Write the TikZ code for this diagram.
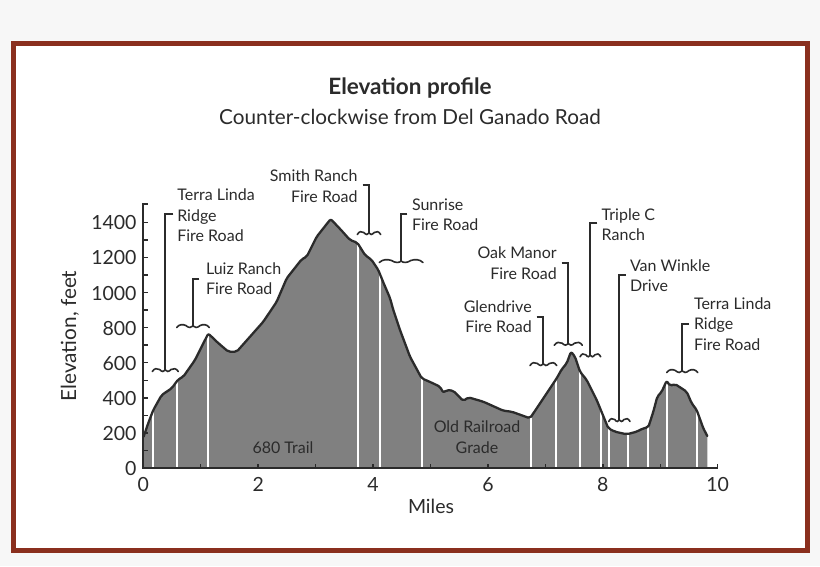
\documentclass[tikz,border=0pt]{standalone}
\usepackage{fontspec}
\setmainfont{Lato}
\definecolor{frame}{HTML}{8A2F1E}
\definecolor{ink}{HTML}{2B2B2B}
\definecolor{area}{HTML}{808080}
\definecolor{outside}{HTML}{F7F7F7}
\tikzset{
  lab/.style={font=\fontsize{16}{20.4}\selectfont,text=ink,inner sep=0pt,outer sep=0pt},
  ll/.style={lab,anchor=base west,align=left},
  lr/.style={lab,anchor=base east,align=right},
  lc/.style={lab,anchor=base,align=center},
  tick/.style={font=\fontsize{19.5}{20}\selectfont,text=ink,inner sep=0pt,outer sep=0pt},
  leader/.style={draw=ink,line width=1.8pt,line join=miter},
  wave/.style={draw=ink,line width=1.6pt,line cap=round},
  axis/.style={draw=ink,line width=2pt},
  gap/.style={draw=white,line width=2pt},
}
\newcommand{\wavebrace}[4]{% name, left, right, y
  \coordinate (#1) at ({(#2+#3)/2},#4);
  \draw[wave] (#2,#4+1.5) .. controls ({#2+(#3-#2)*.08},#4-1.8) and ({#2+(#3-#2)*.18},#4-2) .. ({#2+(#3-#2)*.28},#4-0.5)
     .. controls ({#2+(#3-#2)*.36},#4+2) and ({#2+(#3-#2)*.46},#4+2) .. (#1)
     .. controls ({#2+(#3-#2)*.54},#4+2) and ({#2+(#3-#2)*.64},#4+2) .. ({#2+(#3-#2)*.72},#4-0.5)
     .. controls ({#2+(#3-#2)*.82},#4-2) and ({#2+(#3-#2)*.92},#4-1.8) .. (#3,#4+1.5);
}
\begin{document}
\begin{tikzpicture}[x=1pt,y=-1pt]
\useasboundingbox (0,0) rectangle (820,566);
\fill[outside] (0,0) rectangle (820,566);
\fill[white] (13,43) rectangle (807.5,550);
\draw[frame,line width=5pt] (13.2,43) rectangle (807.5,550);

\node[anchor=base,inner sep=0pt,font=\fontsize{22.5}{24}\selectfont\bfseries,text=ink] (title) at (410,94) {Elevation profile};
\node[anchor=base,inner sep=0pt,font=\fontsize{20.7}{22}\selectfont,text=ink] (subtitle) at (410,124) {Counter-clockwise from Del Ganado Road};

\def\prof{(143.6,436.7) -- (148.3,423) -- (153.3,410) -- (161.7,395) -- (171.7,388.3) -- (178.3,379.3) -- (183.3,376.7) -- (195,360) -- (200.5,349) -- (208.3,333.5) -- (216.7,341.7) -- (228.3,351.7) -- (236.7,351.7) -- (250,336.7) -- (263.3,321.7) -- (276.7,301.7) -- (286.7,278.3) -- (301.7,259.3) -- (306.7,256.7) -- (316.7,236.7) -- (330.7,219) -- (341.7,230.7) -- (350,240) -- (357.3,242.7) -- (365,255) -- (371.7,260) -- (378.3,270) -- (383,281.7) -- (390,298) -- (393.3,310) -- (400,330) -- (410,356.7) -- (421.7,378.3) -- (431.7,382.7) -- (440,386.7) -- (443.3,392.7) -- (446.7,390) -- (453.3,390.7) -- (463.3,401) -- (468.3,397.3) -- (483.3,401.7) -- (503.3,410.7) -- (511.7,411.7) -- (530,418.3) -- (556.7,378.3) -- (561.7,369.3) -- (566.7,363.3) -- (571,351.7) -- (575,356.7) -- (580,371.7) -- (586.7,380) -- (596.7,400) -- (608.3,428.3) -- (615,431.7) -- (626.7,434.3) -- (636.7,431.7) -- (643.3,428.3) -- (648.3,427.3) -- (653.3,411.7) -- (657.3,396.7) -- (661.7,391.7) -- (666.7,380.7) -- (670,386) -- (675,384) -- (686.7,391.7) -- (691.7,403.3) -- (696.7,410) -- (703.3,428.3) -- (707.3,436)}

\fill[area] \prof -- (707.3,468) -- (143.3,468) -- cycle;
\begin{scope}
  \clip \prof -- (707.3,468) -- (143.3,468) -- cycle;
  \foreach \x in {153.3,177.3,208.3,357.7,380,421.7,531,555.7,580.3,601,609.3,628,647.7,667.3,696.7}
    \draw[gap] (\x,200) -- (\x,468);
\end{scope}
\draw[draw=ink,line width=2.3pt,line join=round,line cap=round,rounded corners=2pt] \prof;

% axes
\draw[axis] (147.5,204) -- (143.3,204) -- (143.3,468) -- (717.7,468);
\foreach \i in {1,...,14} \draw[axis,line width=1.5pt] (143.3,{468-17.55*\i}) -- (147.5,{468-17.55*\i});
\foreach \i in {1,...,10} \draw[axis,line width=1.5pt] ({143.3+57.44*\i},468) -- ({143.3+57.44*\i},463.5);
\foreach \v in {0,200,...,1400} \node[tick,anchor=base east] (y\v) at (136.5,{468-\v*0.1755+7.5}) {\v};
\foreach \v in {0,2,...,10} \node[tick,anchor=base] (x\v) at ({143.3+57.44*\v},491) {\v};
\node[tick,anchor=base] (xlabel) at (431,513) {Miles};
\node[tick,font=\fontsize{20.8}{22}\selectfont,anchor=base,rotate=90] (ylabel) at (76,336) {Elevation, feet};

% labels (base anchor is the last line)
\node[ll] (a) at (177.3,241.5) {Terra Linda\\Ridge\\Fire Road};
\node[ll] (b) at (206,294.8) {Luiz Ranch\\Fire Road};
\node[lr] (c) at (357.5,202) {Smith Ranch\\Fire Road};
\node[ll] (d) at (412,230.5) {Sunrise\\Fire Road};
\node[lr] (e) at (531.7,332.5) {Glendrive\\Fire Road};
\node[lr] (f) at (556.7,279) {Oak Manor\\Fire Road};
\node[ll] (g) at (601.7,240.5) {Triple C\\Ranch};
\node[ll] (h) at (630,291.8) {Van Winkle\\Drive};
\node[ll] (i) at (694,350) {Terra Linda\\Ridge\\Fire Road};
\node[lc] (j) at (283,453) {680 Trail};
\node[lc] (k) at (477,453) {Old Railroad\\Grade};

% braces
\wavebrace{ba}{152.3}{178.3}{370}
\wavebrace{bb}{176.7}{209.3}{326}
\wavebrace{bc}{357.3}{380.7}{233}
\wavebrace{bd}{379.3}{423}{261}
\wavebrace{be}{530}{556.7}{364}
\wavebrace{bf}{554.3}{582.3}{343.7}
\wavebrace{bg}{580}{600.7}{355.3}
\wavebrace{bh}{608.7}{630}{420}
\wavebrace{bi}{666.7}{697.7}{371}

% leaders
\coordinate (ha) at (173.3,214.3); \coordinate (hb) at (199.3,278.7);
\coordinate (hc) at (362.7,185.3); \coordinate (hd) at (407.3,214);
\coordinate (he) at (536.7,316.7); \coordinate (hf) at (561.7,262.7);
\coordinate (hg) at (597.3,223.3); \coordinate (hh) at (625.7,275);
\coordinate (hi) at (689,323.7);
\foreach \h/\b in {ha/ba,hb/bb,hc/bc,hd/bd,he/be,hf/bf,hg/bg,hh/bh,hi/bi}
  \draw[leader] (\h) -| (\b);
\end{tikzpicture}
\end{document}
